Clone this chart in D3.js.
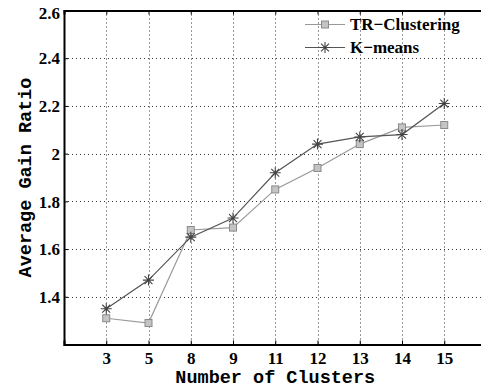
<!DOCTYPE html>
<html>
<head>
<meta charset="utf-8">
<script src="https://cdn.jsdelivr.net/npm/d3@7"></script>
<style>
  html, body { margin: 0; padding: 0; background: #fff; }
  svg { display: block; }
  .serif { font-family: "Liberation Serif", "Times New Roman", serif; font-weight: bold; font-size: 17px; }
  .mono { font-family: "Liberation Mono", "Courier New", monospace; font-weight: bold; font-size: 18.5px; }
</style>
</head>
<body>
<script>
// Cluster counts on the x axis and the average gain ratio of each method
const clusterCounts = ["3", "5", "8", "9", "11", "12", "13", "14", "15"];
const trClustering = [1.31, 1.29, 1.68, 1.69, 1.85, 1.94, 2.04, 2.11, 2.12];
const kMeans = [1.35, 1.47, 1.65, 1.73, 1.92, 2.04, 2.07, 2.08, 2.21];
const yTickValues = [1.4, 1.6, 1.8, 2.0, 2.2, 2.4, 2.6];
const yTickLabels = ["1.4", "1.6", "1.8", "2", "2.2", "2.4", "2.6"];
const seriesNames = ["TR\u2212Clustering", "K\u2212means"];

const W = 481, H = 388;
const plotLeft = 64, plotRight = 486.5, plotTop = 10.5, plotBottom = 344.5;

const svg = d3.select("body").append("svg")
  .attr("width", W).attr("height", H);

const x = d3.scalePoint().domain(clusterCounts).range([plotLeft, plotRight]).padding(1);
const y = d3.scaleLinear().domain([1.2, 2.6]).range([plotBottom, plotTop]);

// dotted grid
const grid = svg.append("g").attr("stroke", "#333").attr("stroke-width", 1)
  .attr("stroke-dasharray", "1,3").attr("fill", "none");
grid.selectAll("line.v").data(clusterCounts).join("line")
  .attr("x1", d => Math.round(x(d)) + 0.5).attr("x2", d => Math.round(x(d)) + 0.5)
  .attr("y1", plotTop).attr("y2", plotBottom);
grid.selectAll("line.h").data(yTickValues.filter(v => v < 2.6)).join("line")
  .attr("x1", plotLeft).attr("x2", plotRight)
  .attr("y1", d => Math.round(y(d)) + 0.5).attr("y2", d => Math.round(y(d)) + 0.5);

// axes with inward ticks
const xAxis = svg.append("g").attr("transform", `translate(0,${plotBottom})`)
  .call(d3.axisBottom(x).tickSize(-4).tickPadding(7));
const xTop = svg.append("g").attr("transform", `translate(0,${plotTop})`)
  .call(d3.axisTop(x).tickSize(-4).tickFormat(""));
const yAxis = svg.append("g").attr("transform", `translate(${plotLeft},0)`)
  .call(d3.axisLeft(y).tickValues(yTickValues)
    .tickFormat((d, i) => yTickLabels[i]).tickSize(-4).tickPadding(4));

[xAxis, xTop, yAxis].forEach(g => {
  g.attr("font-family", null).attr("font-size", null);
  g.select(".domain").attr("stroke", "#000").attr("stroke-width", 2);
  g.selectAll(".tick line").attr("stroke", "#000").attr("stroke-width", 1);
  g.selectAll("text").attr("fill", "#000").attr("class", "serif");
});
xAxis.selectAll(".tick text").attr("dy", "0.71em");
yAxis.selectAll(".tick text").attr("dy", "0.34em");
yAxis.select(".tick:last-of-type text").attr("dy", "0.45em");

// series lines
const line = d3.line().x((d, i) => x(clusterCounts[i])).y(d => y(d));
svg.append("path").datum(trClustering).attr("d", line)
  .attr("fill", "none").attr("stroke", "#999").attr("stroke-width", 1.2);
svg.append("path").datum(kMeans).attr("d", line)
  .attr("fill", "none").attr("stroke", "#555").attr("stroke-width", 1.2);

// markers
function square(g, cx, cy) {
  g.append("rect").attr("x", cx - 3.5).attr("y", cy - 3.5)
    .attr("width", 7).attr("height", 7)
    .attr("fill", "#c4c4c4").attr("stroke", "#8a8a8a").attr("stroke-width", 1);
}
function star(g, cx, cy) {
  const r = 5.5, d = r * 0.72;
  const p = `M${cx - r},${cy}H${cx + r}M${cx},${cy - r}V${cy + r}` +
    `M${cx - d},${cy - d}L${cx + d},${cy + d}M${cx - d},${cy + d}L${cx + d},${cy - d}`;
  g.append("path").attr("d", p).attr("stroke", "#444").attr("stroke-width", 1.1).attr("fill", "none");
}
const marks = svg.append("g");
trClustering.forEach((v, i) => square(marks, x(clusterCounts[i]), y(v)));
kMeans.forEach((v, i) => star(marks, x(clusterCounts[i]), y(v)));

// legend
const legend = svg.append("g");
const legendRows = [24.5, 47.5];
const legendColors = ["#999", "#555"];
seriesNames.forEach((name, i) => {
  const ly = legendRows[i];
  legend.append("line").attr("x1", 305).attr("x2", 345).attr("y1", ly).attr("y2", ly)
    .attr("stroke", legendColors[i]).attr("stroke-width", 1.2);
  if (i === 0) square(legend, 325, ly); else star(legend, 325, ly);
  legend.append("text").attr("class", "serif").attr("x", 350).attr("y", ly).attr("dy", "0.35em")
    .text(name);
});

// axis titles
svg.append("text").attr("class", "mono")
  .attr("x", (plotLeft + plotRight) / 2).attr("y", 383)
  .attr("text-anchor", "middle").text("Number of Clusters");
svg.append("text").attr("class", "mono")
  .attr("transform", `translate(31,${(plotTop + plotBottom) / 2}) rotate(-90)`)
  .attr("text-anchor", "middle").text("Average Gain Ratio");
</script>
</body>
</html>
